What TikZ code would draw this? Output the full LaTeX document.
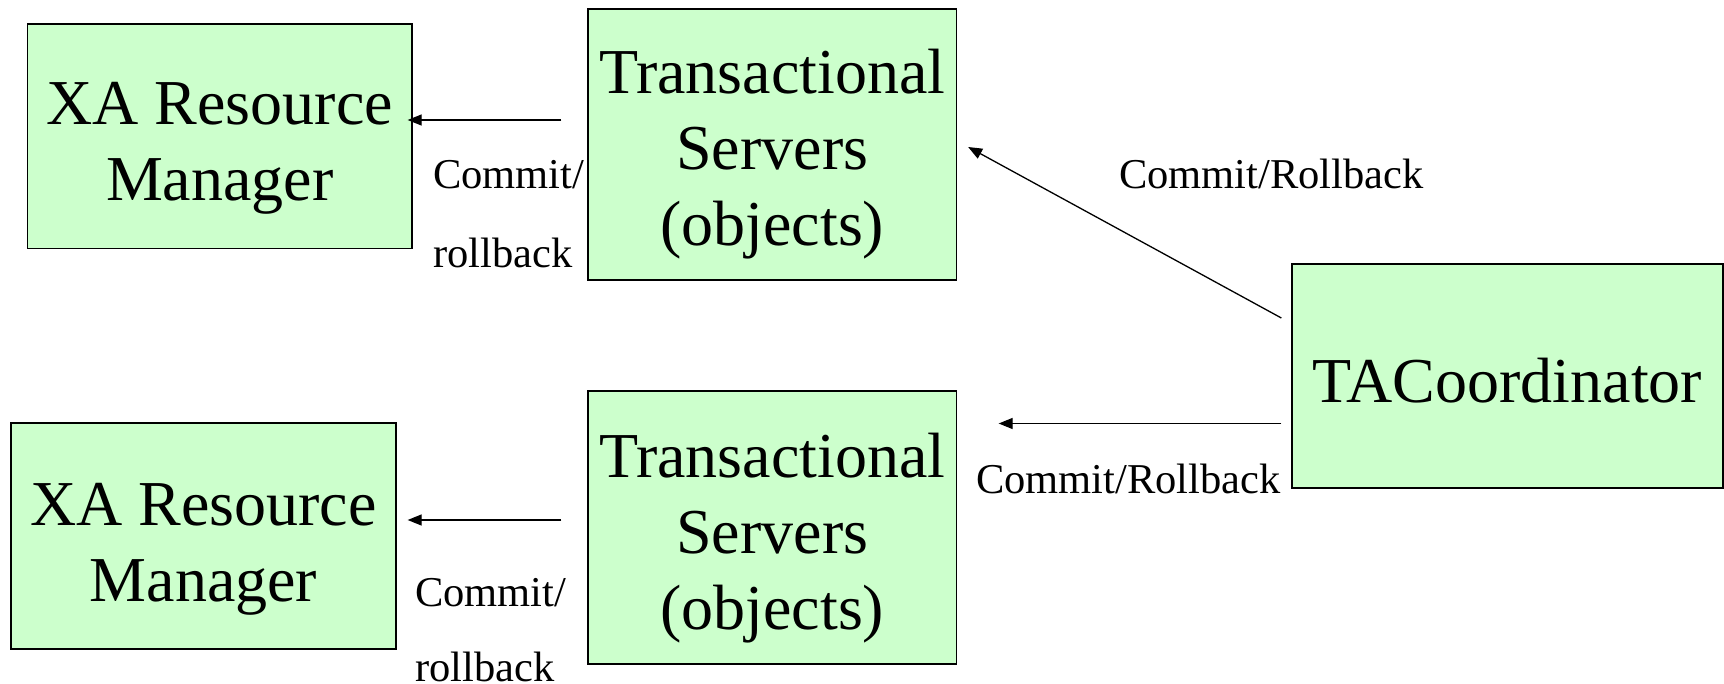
\documentclass[tikz,border=0pt]{standalone}
\usepackage{fontspec}
\setmainfont{Liberation Serif}
\usetikzlibrary{arrows.meta}

\definecolor{boxgreen}{HTML}{CCFFCC}

% text of a box, moved down a little inside it
\newcommand{\boxtext}[2][11.5pt]{\raisebox{-#1}[\height][\depth]{\begin{tabular}{@{}c@{}}#2\end{tabular}}}

\tikzset{
  box/.style={draw, line width=1.3pt, fill=boxgreen, inner sep=0pt,
              font=\fontsize{64}{76}\selectfont},
  lbl/.style={inner sep=0pt, anchor=base west, font=\fontsize{42.5}{48}\selectfont},
  arr/.style={-{Triangle[length=14pt,width=11pt]}, line width=1.3pt}
}

\begin{document}
\begin{tikzpicture}[x=1pt, y=-1pt]
  \useasboundingbox (0,0) rectangle (1724,684);

  % boxes
  \node[box, minimum width=384.5pt, minimum height=224.5pt] (rm1) at (219.75,136.25) {\boxtext{XA Resource\\Manager}};
  \node[box, minimum width=368.5pt, minimum height=271pt] (ts1) at (772.25,144.5) {\boxtext[10pt]{Transactional\\Servers\\(objects)}};
  \node[box, minimum width=368.5pt, minimum height=273pt] (ts2) at (772.25,527.5) {\boxtext[10.5pt]{Transactional\\Servers\\(objects)}};
  \node[box, minimum width=385pt, minimum height=226pt] (rm2) at (203.5,536) {\boxtext[12pt]{XA Resource\\Manager}};
  \node[box, minimum width=431pt, minimum height=224pt] (tac) at (1507.5,376) {\boxtext[11pt]{TACoordinator}};

  % labels
  \node[lbl] (ctop) at (433,189) {Commit/};
  \node[lbl] (rtop) at (433,268) {rollback};
  \node[lbl] (cbot) at (415,606) {Commit/};
  \node[lbl] (rbot) at (415,681.5) {rollback};
  \node[lbl] (crup) at (1119,189) {Commit/Rollback};
  \node[lbl] (crlow) at (976,493) {Commit/Rollback};

  % arrows
  \draw[arr] ([xshift=-26pt]ts1.west |- 0,120) -- ([xshift=-5pt]rm1.east |- 0,120);
  \draw[arr] ([xshift=-10pt]tac.west |- 0,318) -- ([xshift=11pt]ts1.east |- 0,147);
  \draw[arr] ([xshift=-10pt]tac.west |- 0,423.5) -- ([xshift=41.5pt]ts2.east |- 0,423.5);
  \draw[arr] ([xshift=-26pt]ts2.west |- 0,520) -- ([xshift=11pt]rm2.east |- 0,520);
\end{tikzpicture}
\end{document}
